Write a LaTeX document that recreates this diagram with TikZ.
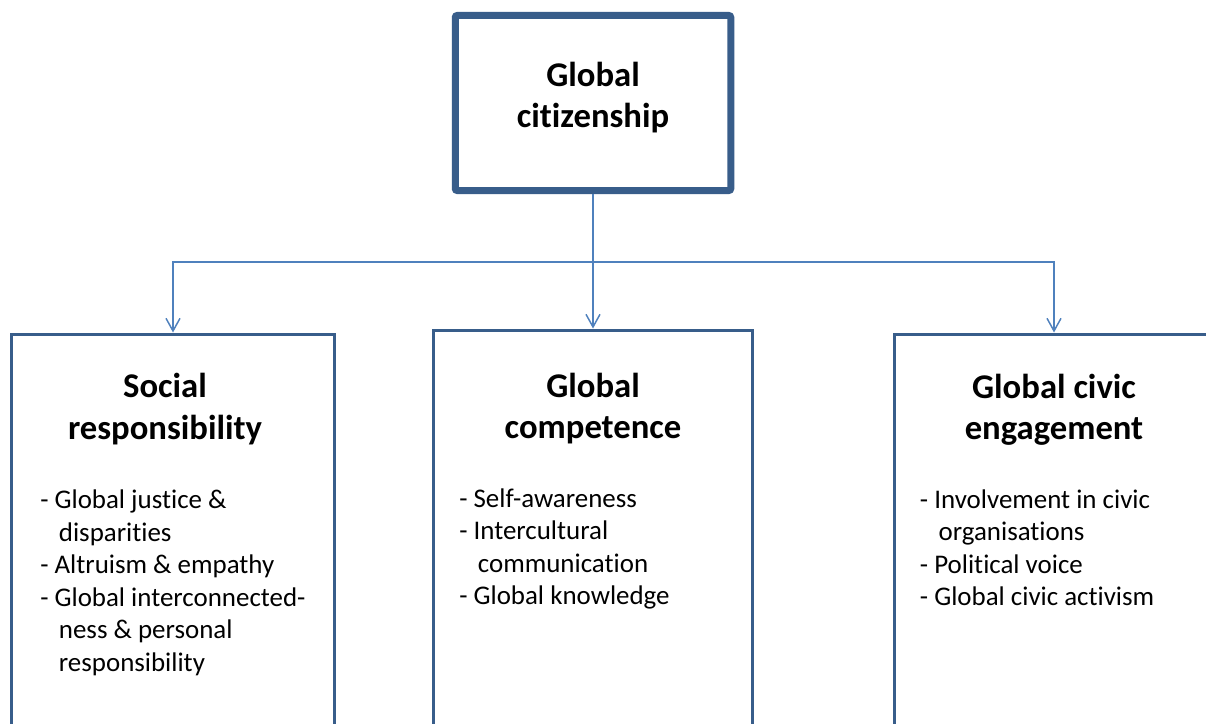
\documentclass[tikz,border=0pt]{standalone}
\usepackage{fontspec}
\setmainfont{Carlito}[Ligatures={NoCommon}]
\usetikzlibrary{arrows.meta}
\definecolor{boxblue}{HTML}{385D8A}
\definecolor{linkblue}{HTML}{4F81BD}
\tikzset{
  topbox/.style={draw=boxblue, line width=5.25pt, rounded corners=1.5pt, inner sep=0pt, fill=white},
  catbox/.style={draw=boxblue, line width=2.25pt, inner sep=0pt, fill=white},
  conn/.style={draw=linkblue, line width=1.1pt},
  arr/.style={-{Straight Barb[length=9.5pt,width=10.5pt,line width=1.1pt]}},
  headtxt/.style={anchor=base, inner sep=0pt},
  listtxt/.style={anchor=base west, inner sep=0pt}
}
\newcommand{\headfont}{\fontsize{26}{31.2}\selectfont\bfseries}
\newcommand{\listfont}{\fontsize{20.2}{24.45}\selectfont}
\newcommand{\ind}{\hspace*{14pt}}
\begin{document}
\begin{tikzpicture}[x=0.75pt,y=-0.75pt]
\useasboundingbox (0,0) rectangle (1206,724);
\clip (0,0) rectangle (1206,724);
\fill[white] (0,0) rectangle (1206,724);

% boxes
\node[topbox, minimum width=275.5*0.75pt, minimum height=175*0.75pt] (top) at (593,103) {};
\node[catbox, minimum width=323*0.75pt, minimum height=466*0.75pt] (sr) at (173,567) {};
\node[catbox, minimum width=318.4*0.75pt, minimum height=470*0.75pt] (gc) at (593,565) {};
\node[catbox, minimum width=318.6*0.75pt, minimum height=466*0.75pt] (ge) at (1054,567) {};

% connectors
\coordinate (j) at (593,262);
\draw[conn] (top.south) -- (j);
\draw[conn,arr] (j) -| (sr.north);
\draw[conn,arr] (j) -- (gc.north);
\draw[conn,arr] (j) -| (ge.north);

% headings
\node[headtxt] (t0) at (593,86) {\parbox[t]{250pt}{\centering\headfont Global\\citizenship}};
\node[headtxt] (t1) at (165,397.5) {\parbox[t]{220pt}{\centering\headfont Social\\responsibility}};
\node[headtxt] (t2) at (593,397) {\parbox[t]{220pt}{\centering\headfont Global\\competence}};
\node[headtxt] (t3) at (1054,398) {\parbox[t]{220pt}{\centering\headfont Global civic\\engagement}};

% lists
\node[listtxt] (l1) at (40,508.5) {\parbox[t]{230pt}{\listfont
- Global justice \&\\
\ind disparities\\
- Altruism \& empathy\\
- Global interconnected-\\
\ind ness \& personal\\
\ind responsibility}};
\node[listtxt] (l2) at (459,507) {\parbox[t]{230pt}{\listfont
- Self-awareness\\
- Intercultural\\
\ind communication\\
- Global knowledge}};
\node[listtxt] (l3) at (919.7,508) {\parbox[t]{230pt}{\listfont
- Involvement in civic\\
\ind organisations\\
- Political voice\\
- Global civic activism}};
\end{tikzpicture}
\end{document}
